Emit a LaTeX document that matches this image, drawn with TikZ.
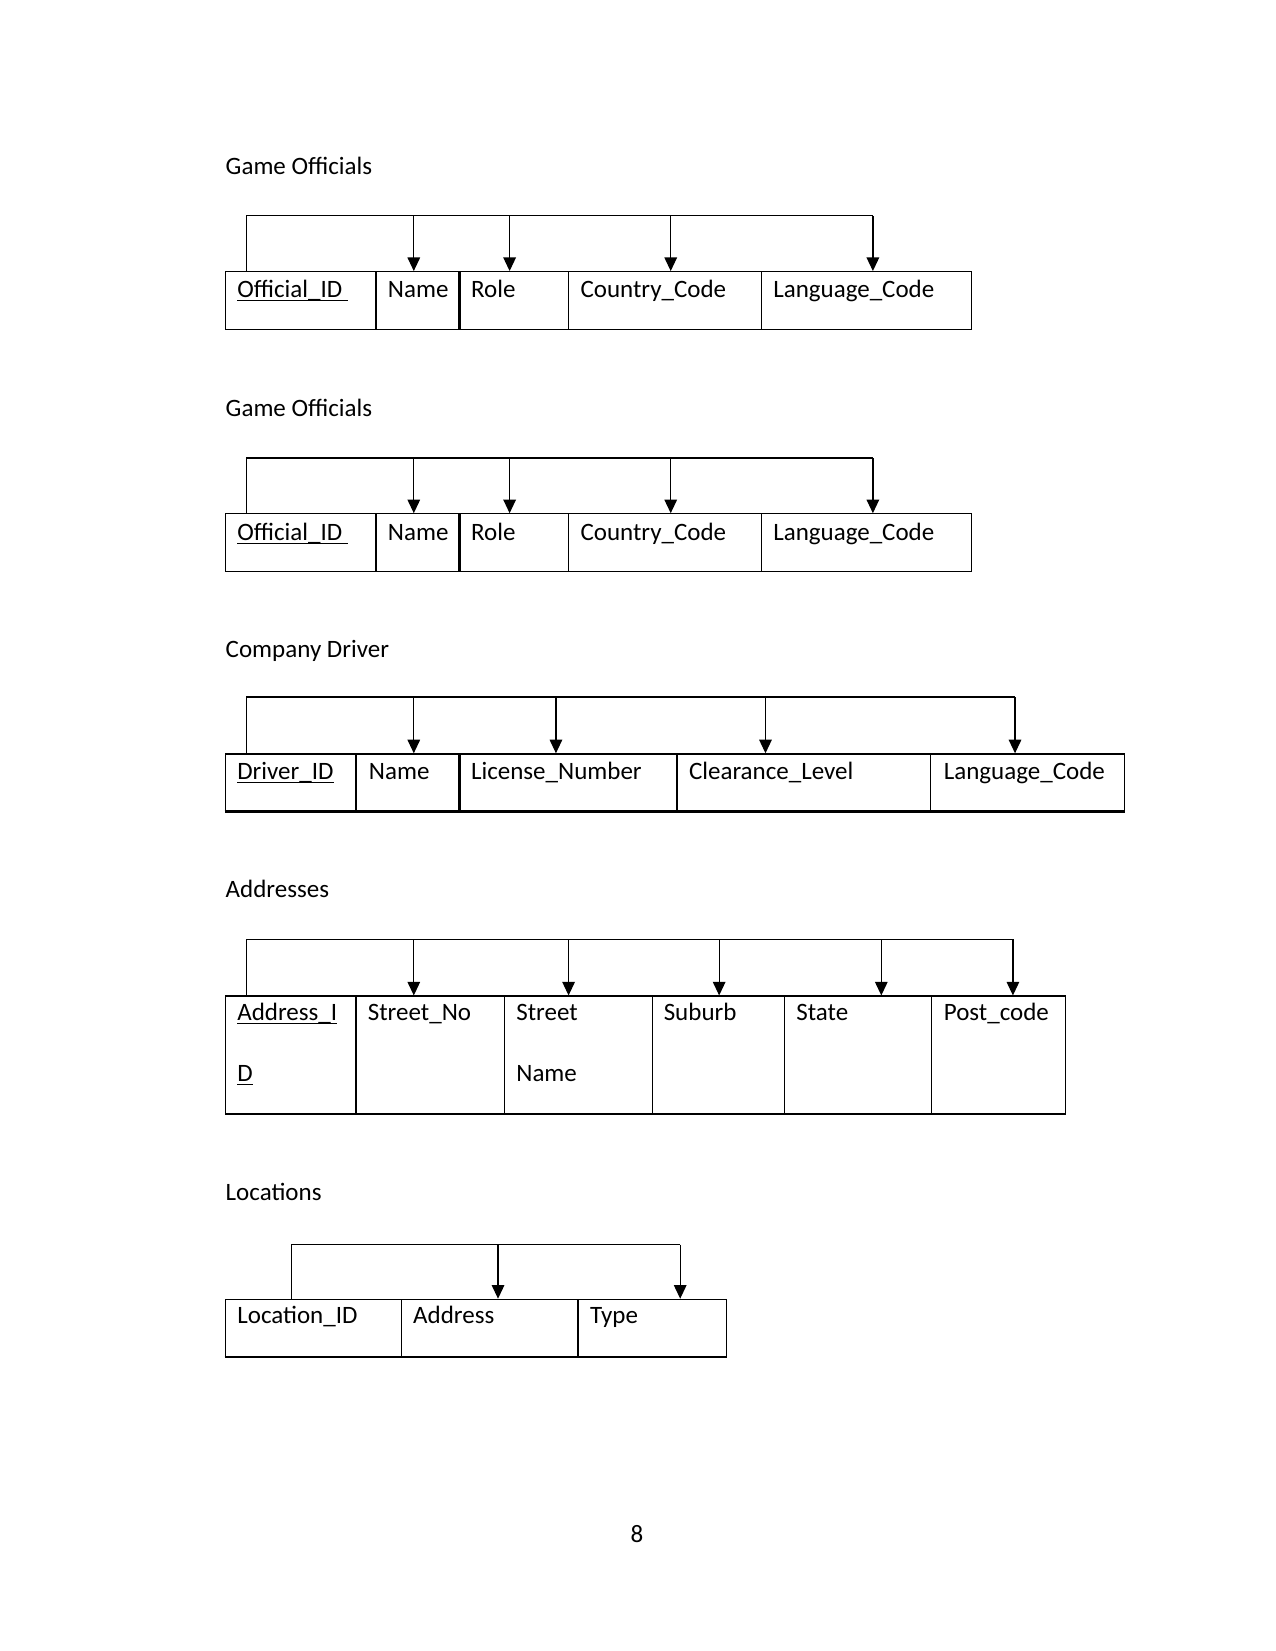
\documentclass[tikz,border=0pt]{standalone}
\usepackage{fontspec}
\setmainfont{Carlito}
\usetikzlibrary{arrows.meta,fit}
\tikzset {>={Triangle[width=6pt,length=6.5pt]}}
\newcommand{\keyfield}[1]{\underline{\smash{#1}}}

\begin{document}
\begin{tikzpicture}[x=0.50535pt,y=-0.50535pt,font=\fontsize{12}{14}\selectfont,
  cell/.style={draw,inner sep=0pt,line width=0.6pt},
  field/.style={anchor=base west,inner sep=0pt},
  link/.style={line width=0.6pt},
  heavy/.style={line width=1.2pt}]
\useasboundingbox (0,0) rectangle (1211,1568);

% Game Officials (first table)
\node[field] (go-title) at (214,166) {Game Officials};
\node[cell,fit={(214,258) (357,313)}] (go-id) {};
\node[cell,fit={(357,258) (437,313)}] (go-name) {};
\node[cell,fit={(437,258) (540,313)}] (go-role) {};
\node[cell,fit={(540,258) (723,313)}] (go-country) {};
\node[cell,fit={(723,258) (923,313)}] (go-lang) {};
\draw[heavy] (go-role.north west) -- (go-role.south west);
\node[field] (go-id-t) at (225,283) {\keyfield{Official\_ID\ }};
\node[field] (go-name-t) at (368,283) {Name};
\node[field] (go-role-t) at (447,283) {Role};
\node[field] (go-country-t) at (551,283) {Country\_Code};
\node[field] (go-lang-t) at (734,283) {Language\_Code};
\coordinate (go-l) at (234,205);
\coordinate (go-r) at (829,205);
\draw[link] (go-l |- go-id.north) -- (go-l) -- (go-r);
\foreach \x/\c in {393/go-name,484/go-role,637/go-country,829/go-lang}{
  \coordinate (t) at (\x,205);
  \draw[link,->] (t) -- (t |- \c.north);
}

% Game Officials (second table)
\node[field] (gb-title) at (214,396) {Game Officials};
\node[cell,fit={(214,488) (357,543)}] (gb-id) {};
\node[cell,fit={(357,488) (437,543)}] (gb-name) {};
\node[cell,fit={(437,488) (540,543)}] (gb-role) {};
\node[cell,fit={(540,488) (723,543)}] (gb-country) {};
\node[cell,fit={(723,488) (923,543)}] (gb-lang) {};
\draw[heavy] (gb-role.north west) -- (gb-role.south west);
\node[field] (gb-id-t) at (225,513) {\keyfield{Official\_ID\ }};
\node[field] (gb-name-t) at (368,513) {Name};
\node[field] (gb-role-t) at (447,513) {Role};
\node[field] (gb-country-t) at (551,513) {Country\_Code};
\node[field] (gb-lang-t) at (734,513) {Language\_Code};
\coordinate (gb-l) at (234,435);
\coordinate (gb-r) at (829,435);
\draw[link] (gb-l |- gb-id.north) -- (gb-l) -- (gb-r);
\foreach \x/\c in {393/gb-name,484/gb-role,637/gb-country,829/gb-lang}{
  \coordinate (t) at (\x,435);
  \draw[link,->] (t) -- (t |- \c.north);
}

% Company Driver
\node[field] (cd-title) at (214,624) {Company Driver};
\node[cell,fit={(214,716) (338,770)}] (cd-id) {};
\node[cell,fit={(338,716) (437,770)}] (cd-name) {};
\node[cell,fit={(437,716) (643,770)}] (cd-lic) {};
\node[cell,fit={(643,716) (884,770)}] (cd-clear) {};
\node[cell,fit={(884,716) (1068,770)}] (cd-lang) {};
\draw[heavy] (cd-lic.north west) -- (cd-lic.south west);
\draw[heavy] (cd-id.south west) -- (cd-lang.south east);
\node[field] (cd-id-t) at (225,740) {\keyfield{Driver\_ID}};
\node[field] (cd-name-t) at (350,740) {Name};
\node[field] (cd-lic-t) at (447,740) {License\_Number};
\node[field] (cd-clear-t) at (654,740) {Clearance\_Level};
\node[field] (cd-lang-t) at (896,740) {Language\_Code};
\coordinate (cd-l) at (234,662);
\coordinate (cd-r) at (964,662);
\draw[link] (cd-l |- cd-id.north) -- (cd-l) -- (cd-r);
\foreach \x/\c in {393/cd-name,528/cd-lic,727/cd-clear,964/cd-lang}{
  \coordinate (t) at (\x,662);
  \draw[link,->] (t) -- (t |- \c.north);
}

% Addresses
\node[field] (ad-title) at (214,852) {Addresses};
\node[cell,fit={(214,946) (338,1058)}] (ad-id) {};
\node[cell,fit={(338,946) (479,1058)}] (ad-no) {};
\node[cell,fit={(479,946) (620,1058)}] (ad-street) {};
\node[cell,fit={(620,946) (745,1058)}] (ad-suburb) {};
\node[cell,fit={(745,946) (885,1058)}] (ad-state) {};
\node[cell,fit={(885,946) (1012,1058)}] (ad-post) {};
\node[field] (ad-id-t) at (225,969) {\keyfield{Address\_I}};
\node[field] (ad-id-t2) at (225,1027) {\keyfield{D}};
\node[field] (ad-no-t) at (349,969) {Street\_No};
\node[field] (ad-street-t) at (490,969) {Street};
\node[field] (ad-street-t2) at (490,1027) {Name};
\node[field] (ad-suburb-t) at (630,969) {Suburb};
\node[field] (ad-state-t) at (756,969) {State};
\node[field] (ad-post-t) at (896,969) {Post\_code};
\coordinate (ad-l) at (234,892);
\coordinate (ad-r) at (962,892);
\draw[link] (ad-l |- ad-id.north) -- (ad-l) -- (ad-r);
\foreach \x/\c in {393/ad-no,540/ad-street,683/ad-suburb,837/ad-state,962/ad-post}{
  \coordinate (t) at (\x,892);
  \draw[link,->] (t) -- (t |- \c.north);
}

% Locations
\node[field] (lo-title) at (214,1140) {Locations};
\node[cell,fit={(214,1234) (381,1288)}] (lo-id) {};
\node[cell,fit={(381,1234) (549,1288)}] (lo-addr) {};
\node[cell,fit={(549,1234) (690,1288)}] (lo-type) {};
\draw[heavy] (lo-id.south west) -- (lo-type.south east);
\node[field] (lo-id-t) at (225,1257) {Location\_ID};
\node[field] (lo-addr-t) at (392,1257) {Address};
\node[field] (lo-type-t) at (560,1257) {Type};
\coordinate (lo-l) at (277,1182);
\coordinate (lo-r) at (646,1182);
\draw[link] (lo-l |- lo-id.north) -- (lo-l) -- (lo-r);
\foreach \x/\c in {473/lo-addr,646/lo-type}{
  \coordinate (t) at (\x,1182);
  \draw[link,->] (t) -- (t |- \c.north);
}

% Page number
\node (page) at (605,1457) {8};

\end{tikzpicture}
\end{document}
